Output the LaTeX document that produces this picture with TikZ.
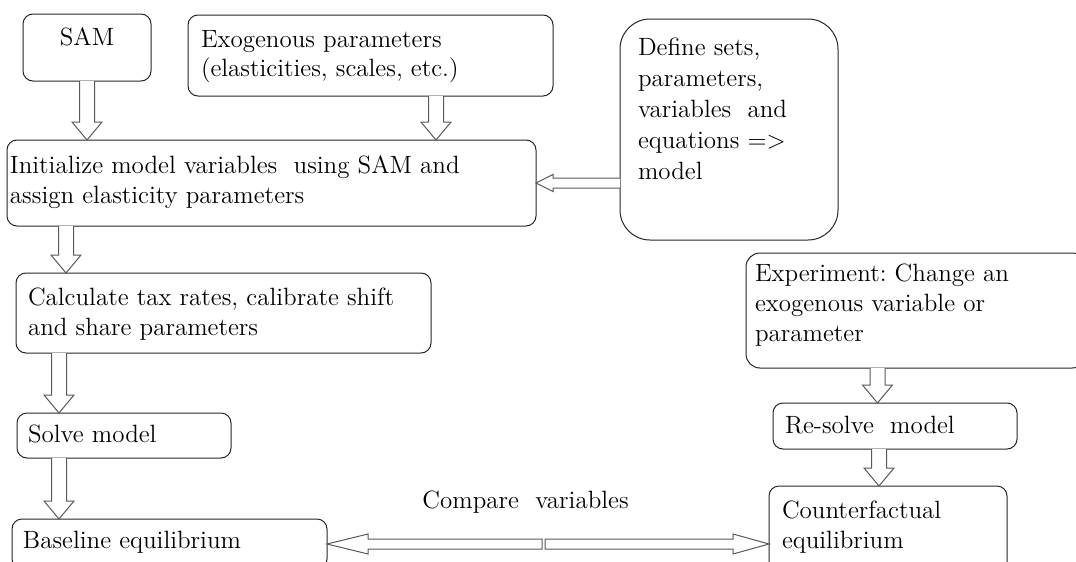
\documentclass[tikz,border=0pt]{standalone}
\usepackage{fontspec}
\usepackage{tikz}
\usetikzlibrary{calc,positioning}
\tikzset{
    %Define style for boxes
    rbox/.style={
           rectangle,
           rounded corners=5pt,
           draw=black!85, line width=0.5pt,
           inner ysep=0pt,
           outer sep=0pt,
           anchor=north west,
           font=\fontsize{12.5}{15}\selectfont},
    bigbox/.style={
           rbox,
           rounded corners=15pt,
           font=\fontsize{12.5}{15.5}\selectfont},
    % Define style for hollow arrows
    blockarrow/.style={
           draw=black!65,
           line width=0.5pt,
           fill=white,
           line join=miter},
    lbl/.style={
           inner sep=0pt,
           font=\fontsize{12.5}{15}\selectfont}
}
% text of a box: width, height, first baseline, lines
\newcommand{\boxtext}[4]{\parbox[b][#2][t]{#1}{\rule{0pt}{#3}#4}}
% hollow arrow pointing down
\newcommand{\vblock}[2]{%
  \draw[blockarrow] let \p1=(#1), \p2=(#2) in
    (\x2-3.75pt,\y1) -- (\x2-3.75pt,\y2+9pt) -- (\x2-7.5pt,\y2+9pt) -- (\x2,\y2)
    -- (\x2+7.5pt,\y2+9pt) -- (\x2+3.75pt,\y2+9pt) -- (\x2+3.75pt,\y1);}
% hollow arrow left or right
\newcommand{\hblock}[6][]{%
  \draw[blockarrow] let \p1=(#2), \p2=(#3), \n1={sign(\x1-\x2)} in
    (\x1,{\y2+#4}) -- ({\x2+(\n1)*#6},{\y2+#4}) -- ({\x2+(\n1)*#6},{\y2+#5}) -- (\x2,\y2)
    -- ({\x2+(\n1)*#6},{\y2-#5}) -- ({\x2+(\n1)*#6},{\y2-#4}) -- (\x1,{\y2-#4}) #1;}

\begin{document}
\begin{tikzpicture}[x=0.5pt,y=-0.5pt]
\useasboundingbox (0,0) rectangle (1076,562);
\clip (0,0) rectangle (1076,562);
% left column
\node[rbox, inner xsep=0pt] (sam) at (23,14)
  {\boxtext{64pt}{33.5pt}{15.5pt}{\centering SAM}};
\node[rbox, inner xsep=6.5pt] (exo) at (188,15)
  {\boxtext{169.5pt}{40.5pt}{16pt}{Exogenous parameters\\(elasticities, scales, etc.)}};
\node[rbox, inner xsep=1.5pt] (init) at (7,140)
  {\boxtext{261.5pt}{43pt}{16.5pt}{Initialize model variables\ \ using SAM and\\assign elasticity parameters}};
\node[bigbox, inner xsep=9pt] (def) at (620,19)
  {\boxtext{91pt}{110.5pt}{18pt}{Define sets,\\parameters,\\variables\ \ and\\equations =>\\model}};
\node[rbox, inner xsep=6pt, below=23.5pt of init.south west, anchor=north west, xshift=4.5pt] (calc)
  {\boxtext{195.5pt}{40pt}{16pt}{Calculate tax rates, calibrate shift\\and share parameters}};
\node[rbox, inner xsep=5.5pt, below=30pt of calc.south west, anchor=north west, xshift=0.5pt] (solve)
  {\boxtext{96pt}{22.5pt}{14.5pt}{Solve model}};
\node[rbox, inner xsep=5.5pt, below=30.5pt of solve.south west, anchor=north west, xshift=-2.5pt] (base)
  {\boxtext{146.5pt}{25pt}{14.5pt}{Baseline equilibrium}};
% right column
\node[rbox, rounded corners=7pt, inner xsep=4.5pt] (exp) at (746,253)
  {\boxtext{161pt}{57.5pt}{14pt}{Experiment:\ Change an\\exogenous variable or\\parameter}};
\node[rbox, inner xsep=6pt, below=17.5pt of exp.south west, anchor=north west, xshift=13.5pt] (resolve)
  {\boxtext{110pt}{23pt}{15pt}{Re-solve\ \ model}};
\node[rbox, inner xsep=6.5pt, below=18.5pt of resolve.south west, anchor=north west, xshift=-2pt] (cf)
  {\boxtext{106pt}{58pt}{16pt}{Counterfactual\\equilibrium}};
% arrows
\coordinate (exoout) at ([xshift=32.75pt]exo.south);
\coordinate (calcin) at ([xshift=25pt]calc.north west);
\coordinate (solvein) at ([xshift=21pt]solve.north west);
\coordinate (basein) at ([xshift=23.5pt]base.north west);
\coordinate (rsin) at ([xshift=52.25pt]resolve.north west);
\coordinate (cfin) at ([xshift=55pt]cf.north west);
\coordinate (mid) at ($(base.east)!0.49!(cf.west)$);
\vblock{sam.south}{init.north -| sam.south}
\vblock{exoout}{init.north -| exoout}
\hblock{def.west |- init.east}{init.east}{2.5pt}{4.25pt}{8.5pt}
\vblock{init.south -| calcin}{calcin}
\vblock{calc.south -| solvein}{solvein}
\vblock{solve.south -| basein}{basein}
\vblock{exp.south -| rsin}{rsin}
\vblock{resolve.south -| cfin}{cfin}
\hblock[-- cycle]{[xshift=-0.75pt]mid}{base.east}{2.5pt}{5pt}{20.5pt}
\hblock[-- cycle]{[xshift=0.75pt]mid}{cf.west}{2.5pt}{5pt}{18pt}
\node[lbl, above=15pt of mid, xshift=-9pt] (cmp) {Compare\ \ variables};
\end{tikzpicture}
\end{document}
